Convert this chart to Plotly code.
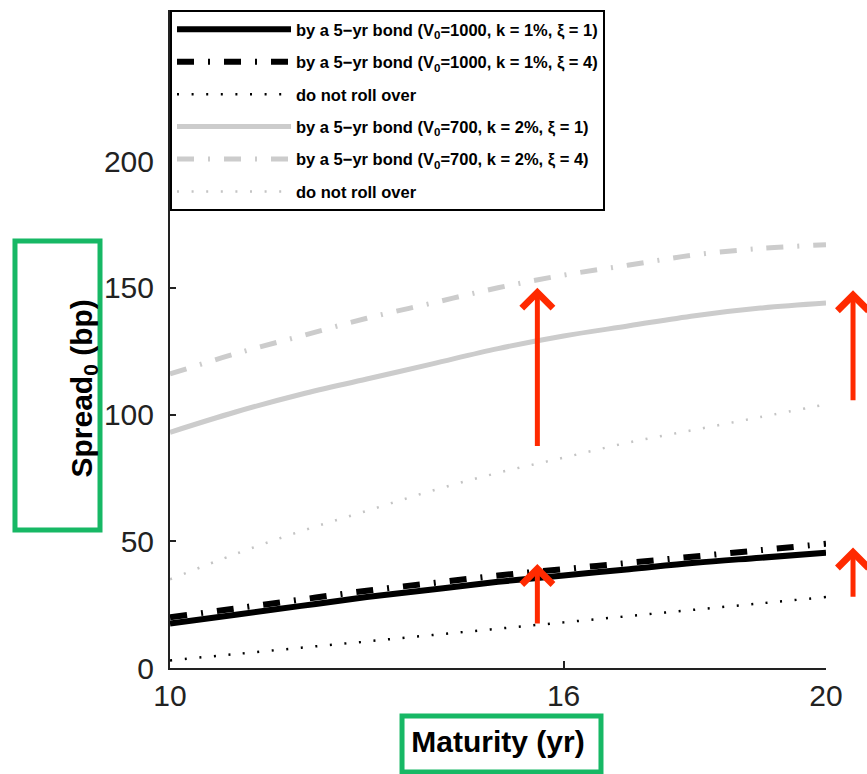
import plotly.graph_objects as go

maturity = [10, 11, 12, 13, 14, 15, 16, 17, 18, 19, 20]

# V0=1000, k=1%
bond_xi1_v1000 = [17.5, 21, 24.5, 28, 31, 34, 36.5, 39, 41.5, 43.5, 45.5]
bond_xi4_v1000 = [20, 23.5, 27, 30.5, 33.5, 36.5, 39, 41.5, 44, 46.5, 49]
noroll_v1000 = [3, 5.5, 8, 10.5, 13, 15.5, 18, 20.5, 23, 25.5, 28]
# V0=700, k=2%
bond_xi1_v700 = [93, 101, 108, 114, 120, 126, 131, 135, 139, 142, 144]
bond_xi4_v700 = [116, 124, 131, 138, 144, 150, 155, 159, 163, 165.5, 167]
noroll_v700 = [35, 45, 54, 62, 70, 77, 83, 89, 94, 99, 104]

names = [
    "by a 5\u2212yr bond (V<sub>0</sub>=1000, k = 1%, \u03be = 1)",
    "by a 5\u2212yr bond (V<sub>0</sub>=1000, k = 1%, \u03be = 4)",
    "do not roll over",
    "by a 5\u2212yr bond (V<sub>0</sub>=700, k = 2%, \u03be = 1)",
    "by a 5\u2212yr bond (V<sub>0</sub>=700, k = 2%, \u03be = 4)",
    "do not roll over",
]
series = [bond_xi1_v1000, bond_xi4_v1000, noroll_v1000,
          bond_xi1_v700, bond_xi4_v700, noroll_v700]
colors = ["#000000", "#000000", "#000000", "#cccccc", "#cccccc", "#c4c4c4"]
widths = [6, 6, 2.5, 5, 5, 2.5]
dashes = ["solid", "17px,14px,2px,14px", "2px,12.6px",
          "solid", "17px,14px,2px,14px", "2px,12.6px"]

xticks = [10, 16, 20]
yticks = [0, 50, 100, 150, 200]

# arrows inside the plot: (x, tail y, head y)
arrows_in = [(15.6, 87, 150), (15.6, 17, 41)]
# arrows right of the plot: (paper x, tail y, head y)
arrows_out = [(1.0412, 105, 149), (1.0412, 27.5, 47.5)]

fig = go.Figure()
for i, (nm, ys) in enumerate(zip(names, series)):
    fig.add_trace(go.Scatter(
        x=maturity, y=ys, mode="lines", name=nm, legendgroup=str(i),
        line=dict(color=colors[i], width=widths[i], dash=dashes[i], shape="spline"),
    ))

red = "#ff2a00"
for (ax_, y0, y1) in arrows_in:
    fig.add_annotation(x=ax_, y=y1, ax=ax_, ay=y0, xref="x", yref="y",
                       axref="x", ayref="y", showarrow=True, text="",
                       arrowhead=4, arrowsize=1.2, arrowwidth=5,
                       arrowcolor=red)
for (ax_, y0, y1) in arrows_out:
    fig.add_annotation(x=ax_, y=y1, ax=0, ay=y0, xref="paper", yref="y",
                       axref="pixel", ayref="y", showarrow=True, text="",
                       arrowhead=4, arrowsize=1.2, arrowwidth=5,
                       arrowcolor=red)

green = "#17b865"
fig.add_shape(type="rect", xref="paper", yref="paper",
              x0=-0.2363, x1=-0.1067, y0=0.2097, y1=0.6489,
              line=dict(color=green, width=5))
fig.add_shape(type="rect", xref="paper", yref="paper",
              x0=0.3537, x1=0.657, y0=-0.158, y1=-0.0729,
              line=dict(color=green, width=5))

# y axis title (placed as annotation to match its off-centre position)
fig.add_annotation(x=-0.1646, y=0.424, xref="paper", yref="paper",
                   text="<b>Spread<sub>0</sub> (bp)</b>", textangle=-90,
                   showarrow=False, font=dict(size=30, color="#000",
                                              family="Liberation Sans, Arial"))

axis_font = dict(family="Liberation Sans, Arial", size=30, color="#222")
fig.update_layout(
    width=867, height=774,
    margin=dict(l=170, r=41, t=10, b=106),
    plot_bgcolor="white", paper_bgcolor="white",
    font=dict(family="Liberation Sans, Arial", color="#000"),
    showlegend=True,
    legend=dict(x=0, y=1, xanchor="left", yanchor="top",
                bgcolor="white", bordercolor="#000", borderwidth=2,
                font=dict(size=16.5, family="Liberation Sans, Arial", weight="bold"),
                itemwidth=114, tracegroupgap=8),
    xaxis=dict(range=[10, 20], tickvals=xticks, ticks="inside", ticklen=7,
               tickwidth=1.5, tickcolor="#222", showline=True, linecolor="#222",
               linewidth=2, showgrid=False, zeroline=False, tickfont=axis_font,
               title=dict(text="<b>Maturity (yr)</b>", font=dict(size=30, color="#000"),
                          standoff=20)),
    yaxis=dict(range=[0, 259.6], tickvals=yticks, ticks="inside", ticklen=6,
               tickwidth=1.5, tickcolor="#222", showline=True, linecolor="#222",
               linewidth=2, showgrid=False, zeroline=False, tickfont=axis_font,
               ticklabelstandoff=8),
)

fig.write_html("out.html")
